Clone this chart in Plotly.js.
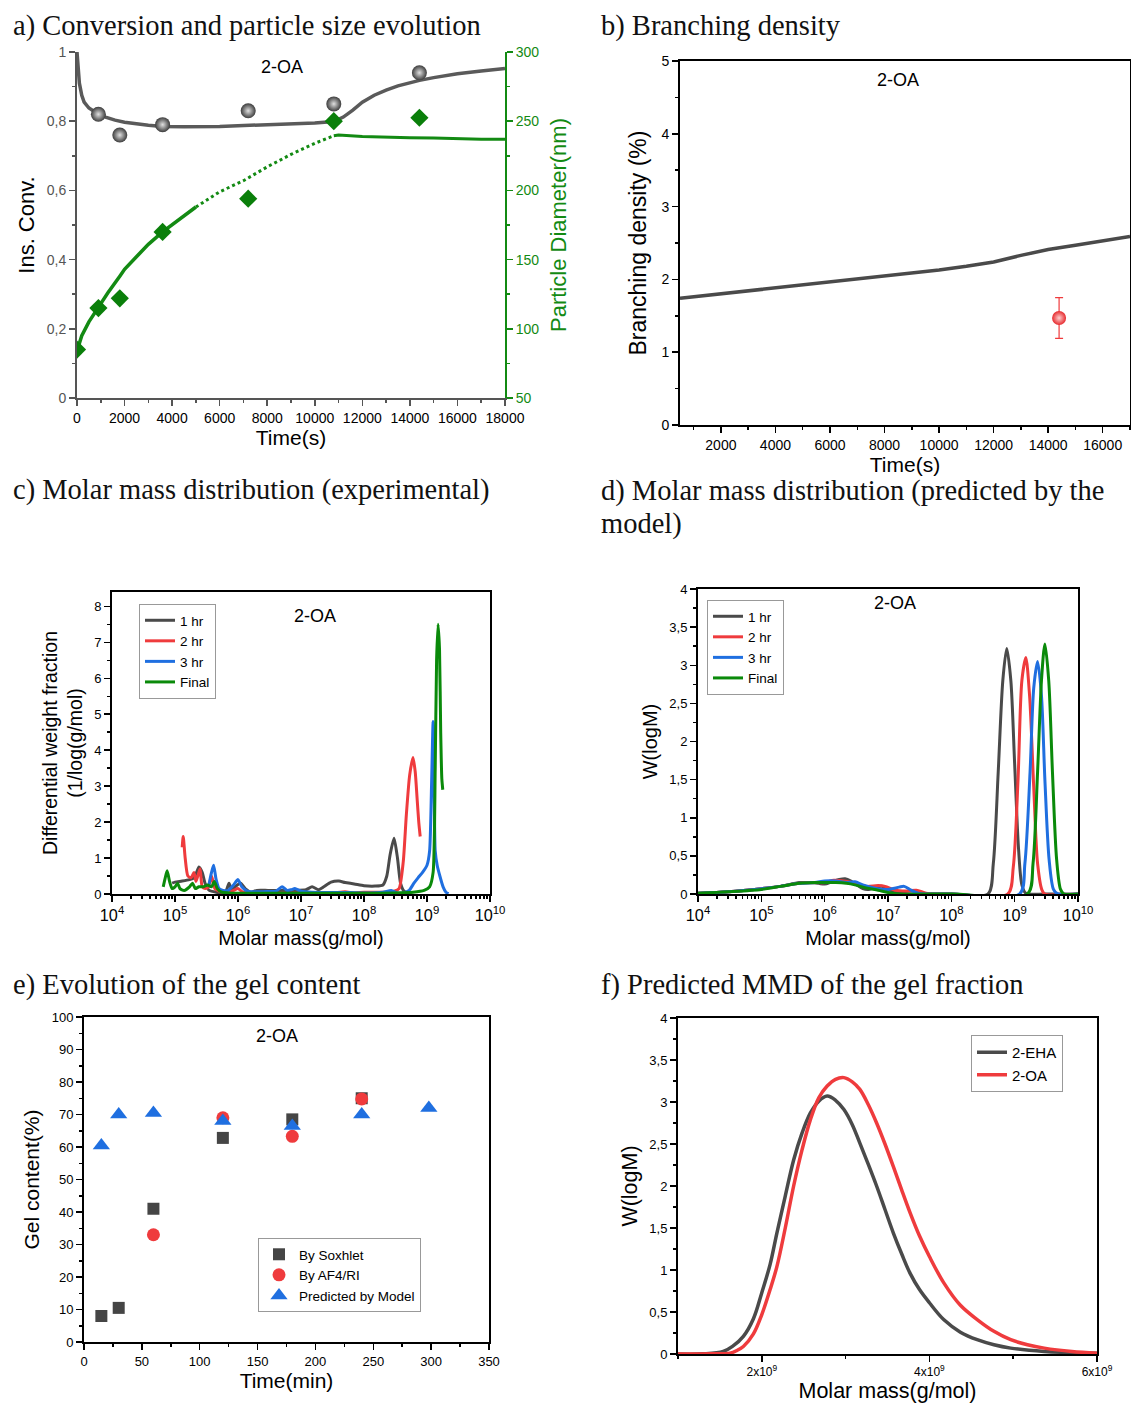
<!DOCTYPE html>
<html><head><meta charset="utf-8">
<script src="https://cdn.plot.ly/plotly-3.0.1.min.js"></script>
<style>body{margin:0;background:#fff}#chart{width:1131px;height:1407px}</style>
</head><body><div id="chart"></div>
<script>
// ---------- DATA ----------
// a) conversion & particle size
const convT = [0, 50, 100, 200, 300, 500, 700, 900, 1200, 1600, 2000, 2500, 3000, 3600, 4500, 6000, 7000, 8000, 9000, 10000, 10800, 11200, 11600, 12000, 12500, 13000, 13500, 14000, 14400, 15000, 16000, 17000, 18000];
const convY = [1.0, 0.95, 0.91, 0.875, 0.855, 0.838, 0.828, 0.82, 0.812, 0.803, 0.797, 0.792, 0.788, 0.785, 0.784, 0.785, 0.787, 0.789, 0.792, 0.795, 0.799, 0.812, 0.832, 0.855, 0.875, 0.89, 0.902, 0.911, 0.918, 0.926, 0.937, 0.945, 0.952];
const convExpT = [900, 1800, 3600, 7200, 10800, 14400];
const convExpY = [0.82, 0.76, 0.79, 0.83, 0.85, 0.94];
const diamT1 = [0, 200, 500, 900, 1300, 1800, 2000, 2500, 3000, 3600, 4200, 5000];
const diamY1 = [84, 95, 105, 116, 126, 138, 143, 152, 161, 170, 178, 188];
const diamT2 = [5000, 6000, 7000, 8000, 9000, 10000, 10800];
const diamY2 = [188, 199, 207, 217, 226, 234, 239.5];
const diamT3 = [10800, 11000, 12000, 13000, 14000, 15000, 16000, 17000, 18000];
const diamY3 = [239.5, 240, 239, 238.3, 238, 237.8, 237.2, 237, 237];
const diamExpT = [0, 900, 1800, 3600, 7200, 10800, 14400];
const diamExpY = [85, 115, 122, 170, 194, 250, 252.5];
// b) branching density
const brT = [500, 1000, 2000, 3000, 4000, 5000, 6000, 7000, 8000, 9000, 10000, 11000, 12000, 13000, 14000, 15000, 16000, 17000];
const brY = [1.74, 1.76, 1.81, 1.85, 1.89, 1.93, 1.97, 2.01, 2.05, 2.09, 2.13, 2.18, 2.24, 2.33, 2.41, 2.47, 2.53, 2.59];
const brExpT = [14400];
const brExpY = [1.47];
const brExpErr = [0.28];
// c) experimental MMD
const seriesNames = ['1 hr', '2 hr', '3 hr', 'Final'];
const c1M = [9.0e4, 1.0e5, 1.3e5, 1.7e5, 2.0e5, 2.2e5, 2.4e5, 2.7e5, 3.0e5, 3.5e5, 4.5e5, 5.5e5, 6.5e5, 7.2e5, 8e5, 9e5, 1.1e6, 1.3e6, 1.6e6, 2e6, 3e6, 5e6, 8e6, 1.2e7, 1.5e7, 1.9e7, 2.3e7, 3e7, 4e7, 5e7, 7e7, 1e8, 1.5e8, 2e8, 2.3e8, 2.6e8, 3e8, 3.4e8, 3.8e8, 4.3e8, 5e8];
const c1W = [0.3, 0.33, 0.36, 0.4, 0.45, 0.6, 0.75, 0.6, 0.3, 0.1, 0.05, 0.04, 0.1, 0.3, 0.1, 0.2, 0.3, 0.15, 0.05, 0.1, 0.1, 0.1, 0.1, 0.12, 0.2, 0.12, 0.2, 0.33, 0.36, 0.32, 0.28, 0.23, 0.22, 0.25, 0.5, 1.1, 1.55, 1.0, 0.3, 0.08, 0.02];
const c2M = [1.3e5, 1.35e5, 1.45e5, 1.6e5, 1.8e5, 2.0e5, 2.15e5, 2.3e5, 2.5e5, 2.7e5, 3.0e5, 3.4e5, 3.8e5, 4.3e5, 5e5, 6e5, 7e5, 8.5e5, 1e6, 1.2e6, 1.5e6, 3e6, 1e7, 3e7, 5e7, 7e7, 1e8, 2e8, 3e8, 3.6e8, 4.2e8, 4.7e8, 5.3e8, 6e8, 6.5e8, 7e8, 7.4e8, 7.8e8];
const c2W = [1.3, 1.6, 1.0, 0.5, 0.45, 0.6, 0.35, 0.5, 0.7, 0.2, 0.15, 0.2, 0.5, 0.15, 0.08, 0.05, 0.05, 0.1, 0.15, 0.05, 0.02, 0.02, 0.02, 0.02, 0.06, 0.03, 0.05, 0.05, 0.08, 0.15, 0.9, 2.2, 3.3, 3.8, 3.4, 2.6, 2.0, 1.6];
const c3M = [3.4e5, 3.8e5, 4.1e5, 4.5e5, 5e5, 5.8e5, 7e5, 8.5e5, 1.0e6, 1.15e6, 1.4e6, 2e6, 3e6, 4e6, 5e6, 6e6, 7e6, 8e6, 1e7, 1.5e7, 3e7, 6e7, 1e8, 2e8, 2.7e8, 3.4e8, 4.2e8, 5.2e8, 6.2e8, 7.2e8, 8.5e8, 1.0e9, 1.1e9, 1.18e9, 1.25e9, 1.3e9, 1.35e9, 1.45e9, 1.6e9, 1.8e9, 2.0e9, 2.2e9];
const c3W = [0.2, 0.6, 0.8, 0.4, 0.15, 0.1, 0.1, 0.25, 0.4, 0.2, 0.08, 0.06, 0.07, 0.08, 0.2, 0.1, 0.12, 0.15, 0.08, 0.05, 0.04, 0.04, 0.03, 0.05, 0.1, 0.03, 0.03, 0.1, 0.3, 0.45, 0.6, 0.8, 1.2, 3.0, 4.8, 3.0, 1.2, 0.8, 0.5, 0.2, 0.05, 0.01];
const c4M = [6.5e4, 7e4, 7.5e4, 8.2e4, 9e4, 1.0e5, 1.1e5, 1.2e5, 1.4e5, 1.7e5, 1.9e5, 2.1e5, 2.4e5, 2.8e5, 3.3e5, 3.8e5, 4.2e5, 4.7e5, 5.5e5, 7e5, 1e6, 3e6, 1e7, 3e7, 1e8, 3e8, 6e8, 9e8, 1.1e9, 1.25e9, 1.35e9, 1.42e9, 1.5e9, 1.58e9, 1.65e9, 1.72e9, 1.78e9];
const c4W = [0.2, 0.45, 0.65, 0.35, 0.15, 0.2, 0.3, 0.15, 0.1, 0.2, 0.3, 0.15, 0.2, 0.2, 0.25, 0.2, 0.35, 0.15, 0.05, 0.03, 0.02, 0.02, 0.02, 0.02, 0.02, 0.03, 0.05, 0.1, 0.2, 0.6, 3.5, 6.5, 7.5, 6.8, 4.5, 3.2, 2.9];
// d) predicted MMD
const d1M = [1e4, 3e4, 1e5, 2e5, 4e5, 6e5, 8e5, 1e6, 1.3e6, 1.7e6, 2.1e6, 2.6e6, 3.2e6, 4e6, 5e6, 6.5e6, 8e6, 1e7, 1.3e7, 1.7e7, 3e7, 1e8, 3.8e8, 4.6e8, 5.5e8, 6.5e8, 7.5e8, 8.7e8, 1.0e9, 1.15e9, 1.3e9, 1.5e9, 3e9, 1e10];
const d1W = [0.01, 0.03, 0.07, 0.1, 0.15, 0.15, 0.14, 0.13, 0.16, 0.19, 0.2, 0.17, 0.12, 0.07, 0.06, 0.09, 0.1, 0.06, 0.03, 0.01, 0, 0, 0, 0.4, 1.6, 2.8, 3.22, 2.8, 1.7, 0.6, 0.12, 0.01, 0, 0];
const d2M = [1e4, 3e4, 1e5, 2e5, 4e5, 7e5, 1e6, 1.4e6, 2e6, 3e6, 4.5e6, 7e6, 9e6, 1.3e7, 2e7, 2.8e7, 4e7, 6e7, 1e8, 7.8e8, 9.5e8, 1.13e9, 1.3e9, 1.5e9, 1.72e9, 2.0e9, 2.3e9, 2.7e9, 3e9, 1e10];
const d2W = [0.01, 0.03, 0.07, 0.1, 0.14, 0.15, 0.15, 0.18, 0.17, 0.14, 0.1, 0.11, 0.1, 0.05, 0.04, 0.05, 0.01, 0, 0, 0, 0.35, 1.5, 2.8, 3.1, 2.6, 1.4, 0.4, 0.05, 0, 0];
const d3M = [1e4, 3e4, 1e5, 2e5, 4e5, 7e5, 1e6, 1.5e6, 2.2e6, 3e6, 4e6, 6e6, 1e7, 1.5e7, 1.8e7, 2.3e7, 3e7, 4e7, 1e8, 1.2e9, 1.45e9, 1.75e9, 2.0e9, 2.3e9, 2.65e9, 3.0e9, 3.5e9, 4.1e9, 4.8e9, 1e10];
const d3W = [0.01, 0.03, 0.07, 0.1, 0.14, 0.15, 0.17, 0.17, 0.15, 0.16, 0.12, 0.08, 0.06, 0.09, 0.1, 0.05, 0.01, 0, 0, 0, 0.4, 1.6, 2.7, 3.05, 2.6, 1.5, 0.45, 0.06, 0, 0];
const d4M = [1e4, 3e4, 1e5, 2e5, 4e5, 7e5, 1e6, 1.5e6, 2.2e6, 3e6, 4.5e6, 7e6, 1e7, 1.5e7, 1e8, 1.6e9, 1.95e9, 2.3e9, 2.65e9, 3.0e9, 3.45e9, 3.95e9, 4.6e9, 5.3e9, 6e9, 1e10];
const d4W = [0.01, 0.03, 0.06, 0.1, 0.14, 0.15, 0.15, 0.15, 0.14, 0.12, 0.08, 0.05, 0.02, 0, 0, 0, 0.4, 1.6, 2.8, 3.28, 2.8, 1.6, 0.45, 0.06, 0, 0];
// e) gel content
const soxT = [15, 30, 60, 120, 180, 240];
const soxY = [8, 10.5, 41, 62.8, 68.5, 75];
const afT = [60, 120, 180, 240];
const afY = [33, 69, 63.3, 74.8];
const modT = [15, 30, 60, 120, 180, 240, 298];
const modY = [60.5, 70, 70.5, 68, 66.5, 70, 72];
const gelNames = ['By Soxhlet', 'By AF4/RI', 'Predicted by Model'];
// f) gel MMD
const fM1 = [1.0e9, 1.3e9, 1.54e9, 1.65e9, 1.78e9, 1.9e9, 2.0e9, 2.1e9, 2.18e9, 2.28e9, 2.38e9, 2.48e9, 2.58e9, 2.68e9, 2.78e9, 2.88e9, 2.98e9, 3.08e9, 3.17e9, 3.27e9, 3.37e9, 3.47e9, 3.57e9, 3.67e9, 3.77e9, 3.88e9, 4.0e9, 4.17e9, 4.37e9, 4.57e9, 4.77e9, 4.97e9, 5.37e9, 6.0e9];
const fW1 = [0, 0.002, 0.03, 0.09, 0.21, 0.42, 0.73, 1.07, 1.44, 1.88, 2.31, 2.63, 2.87, 3.01, 3.07, 3.02, 2.91, 2.73, 2.51, 2.26, 2.0, 1.72, 1.44, 1.19, 0.96, 0.77, 0.61, 0.41, 0.26, 0.17, 0.11, 0.07, 0.03, 0.01];
const fM2 = [1.0e9, 1.4e9, 1.62e9, 1.7e9, 1.78e9, 1.9e9, 2.0e9, 2.1e9, 2.18e9, 2.28e9, 2.38e9, 2.48e9, 2.58e9, 2.68e9, 2.78e9, 2.88e9, 2.98e9, 3.08e9, 3.17e9, 3.27e9, 3.37e9, 3.47e9, 3.57e9, 3.67e9, 3.77e9, 3.88e9, 4.0e9, 4.17e9, 4.37e9, 4.57e9, 4.77e9, 4.97e9, 5.17e9, 5.37e9, 5.7e9, 6.0e9];
const fW2 = [0, 0.002, 0.01, 0.04, 0.09, 0.24, 0.47, 0.77, 1.04, 1.5, 2.0, 2.43, 2.79, 3.05, 3.19, 3.27, 3.29, 3.24, 3.15, 2.97, 2.75, 2.5, 2.23, 1.95, 1.68, 1.41, 1.16, 0.85, 0.58, 0.41, 0.27, 0.17, 0.11, 0.07, 0.03, 0.01];
const fNames = ['2-EHA', '2-OA'];

// ---------- STYLE HELPERS ----------
const W = 1131, H = 1407;
const X = p => p / W, Y = p => 1 - p / H;
const GRAY = '#4a4a4a', RED = '#ef3b3d', BLUE = '#1f6fe0', GREEN = '#0a8a0a', AGREEN = '#138a13';
const cols = [GRAY, RED, BLUE, GREEN];
const SANS = 'Liberation Sans, Arial, sans-serif';
const SERIF = 'Liberation Serif, Times New Roman, serif';

const traces = [];
// a
traces.push({x: convT, y: convY, xaxis: 'x', yaxis: 'y', mode: 'lines', line: {color: '#5a5a5a', width: 3.5}, showlegend: false});
traces.push({x: diamT1, y: diamY1, xaxis: 'x', yaxis: 'y2', mode: 'lines', line: {color: AGREEN, width: 3.5}, showlegend: false});
traces.push({x: diamT2, y: diamY2, xaxis: 'x', yaxis: 'y2', mode: 'lines', line: {color: AGREEN, width: 3, dash: 'dot'}, showlegend: false});
traces.push({x: diamT3, y: diamY3, xaxis: 'x', yaxis: 'y2', mode: 'lines', line: {color: AGREEN, width: 3}, showlegend: false});
traces.push({x: convExpT, y: convExpY, xaxis: 'x', yaxis: 'y', mode: 'markers', marker: {size: 15, color: '#3c3c3c', gradient: {type: 'radial', color: '#e0e0e0'}}, showlegend: false});
traces.push({x: diamExpT, y: diamExpY, xaxis: 'x', yaxis: 'y2', mode: 'markers', marker: {size: 14, symbol: 'diamond', color: '#0a7f0a'}, showlegend: false});
// b
traces.push({x: brT, y: brY, xaxis: 'x2', yaxis: 'y3', mode: 'lines', line: {color: GRAY, width: 3.5}, showlegend: false});
traces.push({x: brExpT, y: brExpY, xaxis: 'x2', yaxis: 'y3', mode: 'markers', error_y: {type: 'data', array: brExpErr, color: RED, thickness: 1.2, width: 4}, marker: {size: 14, color: '#e62a2e', gradient: {type: 'radial', color: '#ffd0d0'}}, showlegend: false});
// c
[[c1M, c1W], [c2M, c2W], [c3M, c3W], [c4M, c4W]].forEach((s, i) => {
  traces.push({x: s[0], y: s[1], xaxis: 'x3', yaxis: 'y4', mode: 'lines', name: seriesNames[i], line: {color: cols[i], width: 3, shape: 'spline', smoothing: 0.6}, legend: 'legend'});
});
// d
[[d1M, d1W], [d2M, d2W], [d3M, d3W], [d4M, d4W]].forEach((s, i) => {
  traces.push({x: s[0], y: s[1], xaxis: 'x4', yaxis: 'y5', mode: 'lines', name: seriesNames[i], line: {color: cols[i], width: 3, shape: 'spline', smoothing: 0.8}, legend: 'legend2'});
});
// e
traces.push({x: soxT, y: soxY, xaxis: 'x5', yaxis: 'y6', mode: 'markers', name: gelNames[0], marker: {symbol: 'square', size: 12, color: '#454545'}, legend: 'legend3'});
traces.push({x: afT, y: afY, xaxis: 'x5', yaxis: 'y6', mode: 'markers', name: gelNames[1], marker: {symbol: 'circle', size: 13, color: RED}, legend: 'legend3'});
traces.push({x: modT, y: modY, xaxis: 'x5', yaxis: 'y6', mode: 'markers', name: gelNames[2], marker: {symbol: 'triangle-up', size: 15, color: BLUE}, legend: 'legend3'});
// f
traces.push({x: fM1, y: fW1, xaxis: 'x6', yaxis: 'y7', mode: 'lines', name: fNames[0], line: {color: GRAY, width: 3.5, shape: 'spline'}, legend: 'legend4'});
traces.push({x: fM2, y: fW2, xaxis: 'x6', yaxis: 'y7', mode: 'lines', name: fNames[1], line: {color: RED, width: 3.5, shape: 'spline'}, legend: 'legend4'});

function ax(o) {
  return Object.assign({
    showgrid: false, zeroline: false, showline: true, linecolor: '#000', linewidth: 2,
    ticks: 'outside', ticklen: 6, tickwidth: 1.5, tickcolor: '#000',
    tickfont: {family: SANS, size: 14, color: '#000'}, automargin: false
  }, o);
}
function ttl(text, size, standoff, color) {
  return {text: text, font: {family: SANS, size: size, color: color || '#000'}, standoff: standoff};
}
const logTicks = {type: 'log', range: [4, 10], dtick: 1, exponentformat: 'power', showexponent: 'all',
  tickfont: {family: SANS, size: 13, color: '#000'}, minor: {ticks: 'outside', ticklen: 3, tickcolor: '#000'}};

const legBase = {bgcolor: '#fff', bordercolor: '#999', borderwidth: 1, xanchor: 'left', yanchor: 'top',
  font: {family: SANS, size: 15, color: '#000'}, tracegroupgap: 0, itemwidth: 30};

const layout = {
  width: W, height: H, margin: {l: 0, r: 0, t: 0, b: 0}, paper_bgcolor: '#fff', plot_bgcolor: 'rgba(0,0,0,0)',
  separators: ', ', showlegend: true,
  // a
  xaxis: ax({domain: [X(77), X(505)], anchor: 'y', range: [0, 18000], dtick: 2000, tickformat: 'd', linecolor: '#555', tickcolor: '#555',
    minor: {ticks: 'outside', ticklen: 3, dtick: 1000, tickcolor: '#555'}, title: ttl('Time(s)', 21, 0)}),
  xaxis7: {domain: [X(77), X(505)], anchor: 'y', overlaying: 'x', side: 'top', range: [0, 18000], dtick: 2000, showline: false,
    showgrid: false, zeroline: false, showticklabels: false, ticks: 'inside', ticklen: 4, tickwidth: 1.5, tickcolor: '#555',
    minor: {ticks: 'inside', ticklen: 2, dtick: 1000, tickcolor: '#555'}},
  yaxis: ax({domain: [Y(398), Y(52)], anchor: 'x', range: [0, 1], dtick: 0.2, linecolor: '#555', tickcolor: '#555',
    tickfont: {family: SANS, size: 14, color: '#555'}, minor: {ticks: 'outside', ticklen: 3, dtick: 0.1, tickcolor: '#555'},
    title: ttl('Ins. Conv.', 22, 6)}),
  yaxis2: ax({domain: [Y(398), Y(52)], anchor: 'x', overlaying: 'y', side: 'right', range: [50, 300], dtick: 50, linecolor: AGREEN, tickcolor: AGREEN,
    tickfont: {family: SANS, size: 14, color: AGREEN}, minor: {ticks: 'outside', ticklen: 3, dtick: 25, tickcolor: AGREEN},
    title: ttl('Particle Diameter(nm)', 22, 12, AGREEN)}),
  // b
  xaxis2: ax({domain: [X(680), X(1130)], anchor: 'y3', range: [500, 17000], tick0: 0, dtick: 2000, tickformat: 'd', mirror: true,
    minor: {ticks: 'outside', ticklen: 3, dtick: 1000, tick0: 0}, title: ttl('Time(s)', 21, 0)}),
  yaxis3: ax({domain: [Y(425), Y(61)], anchor: 'x2', range: [0, 5], dtick: 1, mirror: true,
    minor: {ticks: 'outside', ticklen: 3, dtick: 0.5}, title: ttl('Branching density (%)', 23, 8)}),
  // c
  xaxis3: ax(Object.assign({}, logTicks, {domain: [X(112), X(490)], anchor: 'y4', mirror: true, title: ttl('Molar mass(g/mol)', 20, 8)})),
  yaxis4: ax({domain: [Y(894), Y(592)], anchor: 'x3', range: [0, 8.4], dtick: 1, mirror: true, tickfont: {family: SANS, size: 13, color: '#000'},
    minor: {ticks: 'outside', ticklen: 3, dtick: 0.5}, title: ttl('Differential weight fraction<br>(1/log(g/mol)', 19.5, 6)}),
  // d
  xaxis4: ax(Object.assign({}, logTicks, {domain: [X(698), X(1078)], anchor: 'y5', mirror: true, title: ttl('Molar mass(g/mol)', 20, 8)})),
  yaxis5: ax({domain: [Y(894), Y(589)], anchor: 'x4', range: [0, 4], dtick: 0.5, mirror: true, tickfont: {family: SANS, size: 13, color: '#000'},
    minor: {ticks: 'outside', ticklen: 3, dtick: 0.25}, title: ttl('W(logM)', 20, 6)}),
  // e
  xaxis5: ax({domain: [X(84), X(489)], anchor: 'y6', range: [0, 350], dtick: 50, mirror: true, tickfont: {family: SANS, size: 13, color: '#000'},
    minor: {ticks: 'outside', ticklen: 3, dtick: 25}, title: ttl('Time(min)', 21, 6)}),
  yaxis6: ax({domain: [Y(1342), Y(1017)], anchor: 'x5', range: [0, 100], dtick: 10, mirror: true, tickfont: {family: SANS, size: 13, color: '#000'},
    minor: {ticks: 'outside', ticklen: 3, dtick: 5}, title: ttl('Gel content(%)', 21, 6)}),
  // f
  xaxis6: ax({domain: [X(678), X(1097)], anchor: 'y7', range: [1e9, 6e9], tickmode: 'array', tickvals: [2e9, 4e9, 6e9],
    ticktext: ['2x10<sup>9</sup>', '4x10<sup>9</sup>', '6x10<sup>9</sup>'], mirror: true, tickfont: {family: SANS, size: 12, color: '#000'},
    minor: {ticks: 'outside', ticklen: 3, tickmode: 'linear', tick0: 0, dtick: 1e9}, title: ttl('Molar mass(g/mol)', 21.5, 2)}),
  yaxis7: ax({domain: [Y(1354), Y(1018)], anchor: 'x6', range: [0, 4], dtick: 0.5, mirror: true, tickfont: {family: SANS, size: 13, color: '#000'},
    minor: {ticks: 'outside', ticklen: 3, dtick: 0.25}, title: ttl('W(logM)', 21.5, 6)}),
  legend: Object.assign({}, legBase, {x: X(139), y: Y(604), font: {family: SANS, size: 13.5, color: '#000'}}),
  legend2: Object.assign({}, legBase, {x: X(707), y: Y(600), font: {family: SANS, size: 13.5, color: '#000'}}),
  legend3: Object.assign({}, legBase, {x: X(258), y: Y(1238), font: {family: SANS, size: 13.5, color: '#000'}}),
  legend4: Object.assign({}, legBase, {x: X(971), y: Y(1035), font: {family: SANS, size: 15, color: '#000'}}),
  annotations: []
};
const panelTitles = [
  ['a) Conversion and particle size evolution', 12, 26],
  ['b) Branching density', 600, 26],
  ['c) Molar mass distribution (experimental)', 12, 490],
  ['d) Molar mass distribution (predicted by the', 600, 491],
  ['model)', 600, 524],
  ['e) Evolution of the gel content', 12, 985],
  ['f) Predicted MMD of the gel fraction', 600, 985]
];
panelTitles.forEach(t => {
  layout.annotations.push({text: t[0], xref: 'paper', yref: 'paper', x: X(t[1]), y: Y(t[2]), xanchor: 'left',
    yanchor: 'middle', align: 'left', showarrow: false, borderpad: 0, font: {family: SERIF, size: 28.5, color: '#111'}});
});
[[282, 67], [898, 80], [315, 616], [895, 603], [277, 1036]].forEach(p => {
  layout.annotations.push({text: '2-OA', xref: 'paper', yref: 'paper', x: X(p[0]), y: Y(p[1]), xanchor: 'center', yanchor: 'middle',
    showarrow: false, font: {family: SANS, size: 18, color: '#000'}});
});
Plotly.newPlot('chart', traces, layout, {staticPlot: true});
</script></body></html>
